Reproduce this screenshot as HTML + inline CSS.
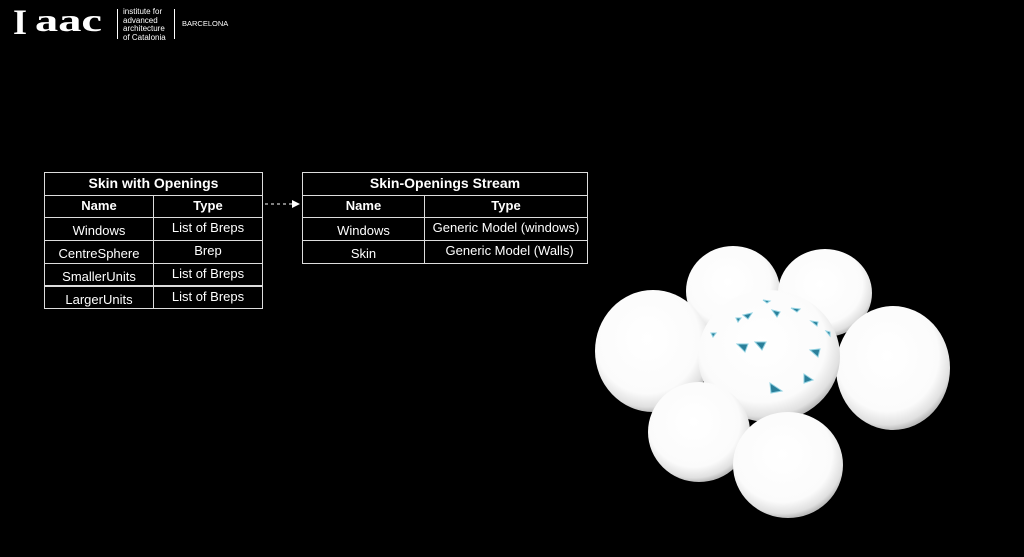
<!DOCTYPE html>
<html><head><meta charset="utf-8"><style>
html,body{margin:0;padding:0;background:#000;width:1024px;height:557px;overflow:hidden;position:relative;font-family:"Liberation Sans",Arial,sans-serif;color:#fff}
.abs{position:absolute}
.c{position:absolute;box-sizing:border-box;border:1px solid #ddd;text-align:center;font-size:13px;line-height:20px;height:23.6px}
.t{font-weight:bold;font-size:14px}
.h{font-weight:bold}
.d{padding-top:3px}
</style></head><body>
<div class="abs" style="left:13px;top:2px;font-family:'Liberation Serif',serif;font-weight:bold;font-size:36px;line-height:40px">I</div>
<div class="abs" style="left:35px;top:0px;font-family:'Liberation Serif',serif;font-weight:bold;font-size:32px;line-height:40px;transform:scaleX(1.45);transform-origin:left top">aac</div>
<div class="abs" style="left:117px;top:9px;width:1px;height:30px;background:#fff"></div>
<div class="abs" style="left:123px;top:8px;font-size:8px;line-height:8.5px">institute for<br>advanced<br>architecture<br>of Catalonia</div>
<div class="abs" style="left:174px;top:9px;width:1px;height:30px;background:#fff"></div>
<div class="abs" style="left:182px;top:19px;font-size:7.5px">BARCELONA</div>

<div class="c t" style="left:44px;top:172px;width:219px">Skin with Openings</div>
<div class="c h" style="left:44px;top:194.7px;width:110px">Name</div>
<div class="c h" style="left:153px;top:194.7px;width:110px">Type</div>
<div class="c d" style="left:44px;top:217.4px;width:110px">Windows</div>
<div class="c" style="left:153px;top:217.4px;width:110px">List of Breps</div>
<div class="c d" style="left:44px;top:240.1px;width:110px">CentreSphere</div>
<div class="c" style="left:153px;top:240.1px;width:110px">Brep</div>
<div class="c d" style="left:44px;top:262.8px;width:110px">SmallerUnits</div>
<div class="c" style="left:153px;top:262.8px;width:110px">List of Breps</div>
<div class="c d" style="left:44px;top:285.5px;width:110px">LargerUnits</div>
<div class="c" style="left:153px;top:285.5px;width:110px">List of Breps</div>

<div class="c t" style="left:302px;top:172px;width:286px">Skin-Openings Stream</div>
<div class="c h" style="left:302px;top:194.7px;width:123px">Name</div>
<div class="c h" style="left:424px;top:194.7px;width:164px">Type</div>
<div class="c d" style="left:302px;top:217.4px;width:123px">Windows</div>
<div class="c" style="left:424px;top:217.4px;width:164px">Generic Model (windows)</div>
<div class="c d" style="left:302px;top:240.1px;width:123px">Skin</div>
<div class="c" style="left:424px;top:240.1px;width:164px">&nbsp;&nbsp;Generic Model (Walls)</div>

<svg class="abs" style="left:0;top:0" width="1024" height="557">
<defs>
<radialGradient id="g" cx="45%" cy="40%" r="60%">
<stop offset="0" stop-color="#fff"/><stop offset="0.75" stop-color="#fbfbfb"/><stop offset="0.93" stop-color="#e0e0e0"/><stop offset="1" stop-color="#bcbcbc"/>
</radialGradient>
</defs>
<line x1="265" y1="204" x2="294" y2="204" stroke="#fff" stroke-dasharray="3,3"/>
<polygon points="300,204 292,200 292,208" fill="#fff"/>
<g fill="url(#g)">
<ellipse cx="733" cy="291" rx="47" ry="45"/>
<ellipse cx="825" cy="293" rx="47" ry="44"/>
<ellipse cx="653" cy="351" rx="58" ry="61"/>
<ellipse cx="893" cy="368" rx="57" ry="62"/>
<ellipse cx="769" cy="356" rx="71" ry="66"/>
<ellipse cx="699" cy="432" rx="51" ry="50"/>
<ellipse cx="788" cy="465" rx="55" ry="53"/>
</g>
<g fill="#2a7f9a" stroke="#8fd0e0" stroke-width="1">
<polygon points="737,344 748,344 745,352"/>
<polygon points="755,342 766,342 762,350"/>
<polygon points="810,350 820,349 818,357"/>
<polygon points="770,383 782,391 771,393"/>
<polygon points="804,374 813,380 804,383"/>
<polygon points="772,310 780,312 777,317"/>
<polygon points="743,315 752,313 748,319"/>
<polygon points="791,308 800,309 797,312"/>
<polygon points="763,300 770,301 767,303"/>
<polygon points="811,321 818,322 817,326"/>
<polygon points="826,331 830,332 830,336"/>
<polygon points="711,333 716,333 713,337"/>
<polygon points="736,318 741,318 738,322"/>
</g>
</svg>
</body></html>
